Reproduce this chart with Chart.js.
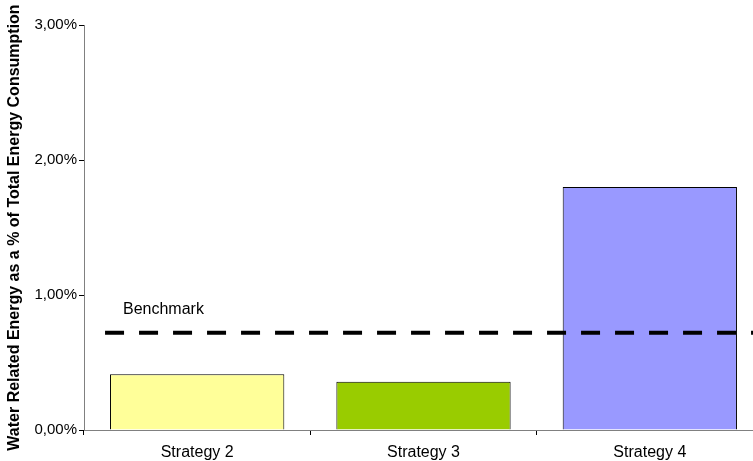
<!DOCTYPE html>
<html>
<head>
<meta charset="utf-8">
<script src="https://cdn.jsdelivr.net/npm/chart.js@4"></script>
<style>
  html, body { margin: 0; padding: 0; background: #fff; overflow: hidden; }
  #wrap { width: 753px; height: 461px; overflow: hidden; }
</style>
</head>
<body>
<!-- canvas is a bit wider than the window: the plot area runs past the right edge -->
<div id="wrap"><canvas id="chart" width="763" height="461"></canvas></div>
<script>
const strategies = ['Strategy 2', 'Strategy 3', 'Strategy 4'];
const energyShare = [0.413, 0.358, 1.80];
const barColors = ['#FFFF99', '#99CC00', '#9999FF'];
const benchmarkValue = 0.72;
const benchmarkLabel = 'Benchmark';
const yTicks = [0, 1, 2, 3];
const yTitle = 'Water Related Energy as a % of Total Energy Consumption';

const fontFamily = '"Liberation Sans", Arial, sans-serif';

// dashed benchmark line + its label, placed with the chart's own scales
const benchmark = {
    id: 'benchmark',
    afterDatasetsDraw(chart) {
        const { ctx, chartArea, scales } = chart;
        const y = scales.y.getPixelForValue(benchmarkValue);
        const x0 = scales.x.getPixelForDecimal(0.031);
        ctx.save();
        ctx.strokeStyle = '#000';
        ctx.lineWidth = 4;
        ctx.setLineDash([19, 15]);
        ctx.beginPath();
        ctx.moveTo(x0, y);
        ctx.lineTo(chartArea.right, y);
        ctx.stroke();
        ctx.fillStyle = '#000';
        ctx.font = `16px ${fontFamily}`;
        ctx.textBaseline = 'middle';
        ctx.fillText(benchmarkLabel, chartArea.left + 39, y - 23);
        ctx.restore();
    },
};

new Chart(document.getElementById('chart'), {
    type: 'bar',
    data: {
        labels: strategies,
        datasets: [{
            data: energyShare,
            backgroundColor: barColors,
            borderColor: '#000',
            borderWidth: 1,
            barPercentage: 0.77,
            categoryPercentage: 1,
        }],
    },
    plugins: [benchmark],
    options: {
        responsive: false,
        animation: false,
        layout: { padding: { top: 25, right: 0, left: 0, bottom: 0 } },
        plugins: {
            legend: { display: false },
            tooltip: { enabled: false },
        },
        scales: {
            x: {
                offset: true,
                grid: {
                    display: true,
                    offset: true,
                    drawOnChartArea: false,
                    drawTicks: true,
                    tickLength: 5,
                    color: '#000',
                },
                border: { color: '#808080', width: 1 },
                ticks: { color: '#000', font: { family: fontFamily, size: 16 }, padding: 8 },
                afterFit: (scale) => { scale.height = 31; },
            },
            y: {
                min: 0,
                max: 3,
                afterBuildTicks: (scale) => { scale.ticks = yTicks.map((value) => ({ value })); },
                grid: {
                    display: true,
                    drawOnChartArea: false,
                    drawTicks: true,
                    tickLength: 5,
                    color: '#000',
                },
                border: { color: '#808080', width: 1 },
                ticks: {
                    color: '#000',
                    font: { family: fontFamily, size: 15 },
                    padding: 2,
                    callback: (value) => value.toFixed(2).replace('.', ',') + '%',
                },
                title: {
                    display: true,
                    text: yTitle,
                    color: '#000',
                    font: { family: fontFamily, size: 16, weight: 'bold' },
                    padding: { top: 5, bottom: 0 },
                },
                afterFit: (scale) => { scale.width = 84; },
            },
        },
    },
});
</script>
</body>
</html>
